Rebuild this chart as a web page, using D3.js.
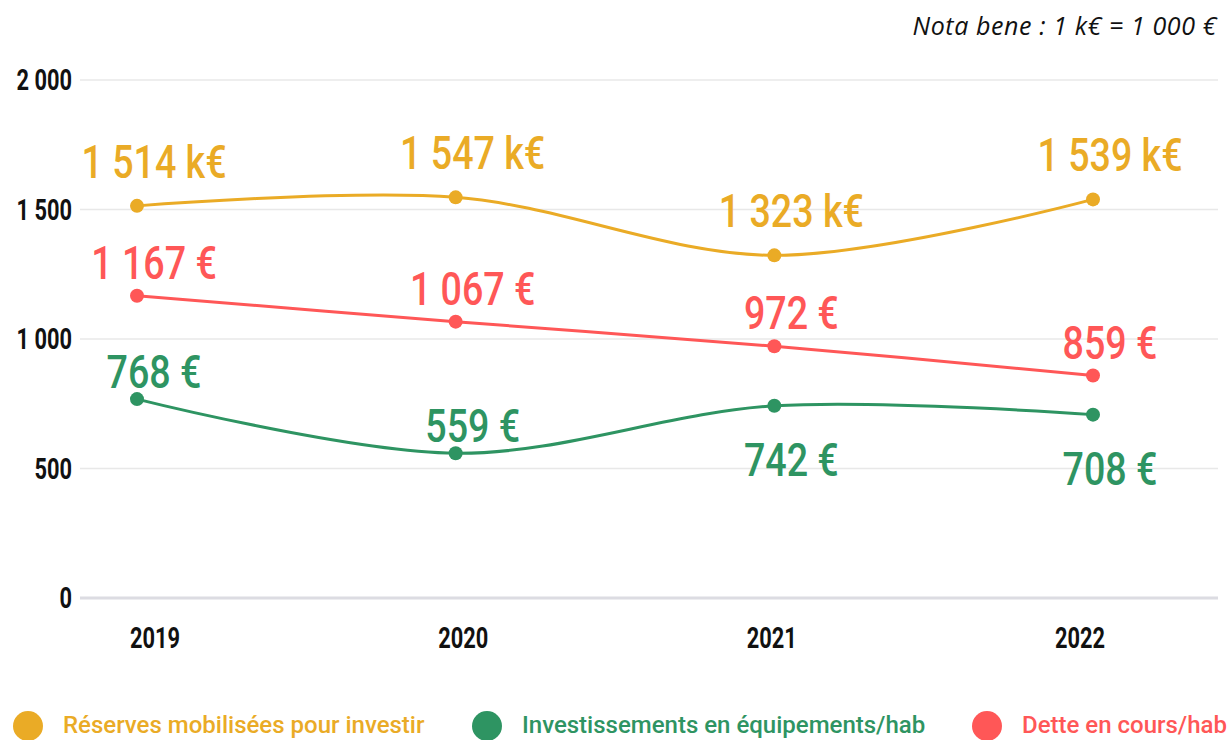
<!DOCTYPE html>
<html>
<head>
<meta charset="utf-8">
<script src="https://cdn.jsdelivr.net/npm/d3@7"></script>
<style>
  html, body { margin: 0; padding: 0; background: #fff; }
  svg { display: block; }
</style>
</head>
<body>
<svg id="chart" width="1228" height="740"></svg>
<script>
const years = ["2019", "2020", "2021", "2022"];
const reserves = [1514, 1547, 1323, 1539];
const dette = [1167, 1067, 972, 859];
const invest = [768, 559, 742, 708];
const reservesLabels = ["1 514 k€", "1 547 k€", "1 323 k€", "1 539 k€"];
const detteLabels = ["1 167 €", "1 067 €", "972 €", "859 €"];
const investLabels = ["768 €", "559 €", "742 €", "708 €"];
const investSide = ["above", "above", "below", "below"];
const yTicks = [0, 500, 1000, 1500, 2000];
const yTickLabels = ["0", "500", "1 000", "1 500", "2 000"];
const legendNames = ["Réserves mobilisées pour investir", "Investissements en équipements/hab", "Dette en cours/hab"];
const noteText = "Nota bene : 1 k€ = 1 000 €";

const colors = { reserves: "#EAAB26", invest: "#2E9462", dette: "#FF5757" };

const svg = d3.select("#chart");
const axisFont = "Roboto, sans-serif";
const handFont = "Roboto, sans-serif";
const axisScale = 0.74;
const handScale = 0.8;

const x = d3.scalePoint().domain(years).range([137, 1093]);
const xLabel = d3.scalePoint().domain(years).range([155, 1080]);
const y = d3.scaleLinear().domain([0, 2000]).range([598, 80]);

// grid
const grid = svg.append("g");
grid.selectAll("line").data(yTicks).join("line")
  .attr("x1", 80).attr("x2", 1218)
  .attr("y1", d => y(d)).attr("y2", d => y(d))
  .attr("stroke", d => d === 0 ? "#dcdce2" : "#e8e8e8")
  .attr("stroke-width", d => d === 0 ? 3 : 1.5);

// y labels
svg.append("g").selectAll("text").data(yTicks).join("text")
  .attr("transform", d => `translate(72,${y(d) + 10}) scale(${axisScale},1)`)
  .attr("text-anchor", "end")
  .attr("font-family", axisFont).attr("font-weight", "bold").attr("font-size", 29.5)
  .attr("fill", "#111")
  .text((d, i) => yTickLabels[i]);

// x labels
svg.append("g").selectAll("text").data(years).join("text")
  .attr("transform", d => `translate(${xLabel(d)},648) scale(${axisScale},1)`)
  .attr("text-anchor", "middle")
  .attr("font-family", axisFont).attr("font-weight", "bold").attr("font-size", 29.5)
  .attr("fill", "#111")
  .text(d => d);

// note
svg.append("text").attr("x", 1217).attr("y", 35)
  .attr("text-anchor", "end")
  .attr("font-family", "'Open Sans', 'Noto Sans', sans-serif").attr("font-style", "italic")
  .attr("font-size", 25).attr("letter-spacing", 0.6).attr("fill", "#111")
  .text(noteText);

const line = d3.line()
  .x((d, i) => x(years[i]))
  .y(d => y(d))
  .curve(d3.curveCatmullRom.alpha(0.5));

function series(vals, labels, color, offsets) {
  const g = svg.append("g");
  g.append("path").attr("d", line(vals))
    .attr("fill", "none").attr("stroke", color).attr("stroke-width", 3);
  g.selectAll("circle").data(vals).join("circle")
    .attr("cx", (d, i) => x(years[i])).attr("cy", d => y(d))
    .attr("r", 7).attr("fill", color);
  g.selectAll("text").data(vals).join("text")
    .attr("transform", (d, i) => `translate(${x(years[i]) + 17},${y(d) + offsets(i)}) scale(${handScale},1)`)
    .attr("text-anchor", "middle")
    .attr("font-family", handFont).attr("font-weight", 500).attr("font-size", 47)
    .attr("fill", color)
    .text((d, i) => labels[i]);
}

series(reserves, reservesLabels, colors.reserves, () => -28);
series(dette, detteLabels, colors.dette, () => -17);
series(invest, investLabels, colors.invest, i => investSide[i] === "above" ? -11 : 70);

// legend
const legendColors = [colors.reserves, colors.invest, colors.dette];
const legendX = [28, 487, 987];
const lg = svg.append("g");
legendNames.forEach((name, i) => {
  lg.append("circle").attr("cx", legendX[i]).attr("cy", 726).attr("r", 15).attr("fill", legendColors[i]);
  lg.append("text").attr("x", legendX[i] + 35).attr("y", 733)
    .attr("font-family", "Roboto, sans-serif").attr("font-weight", 500).attr("font-size", 24)
    .attr("fill", legendColors[i]).text(name);
});
</script>
</body>
</html>
